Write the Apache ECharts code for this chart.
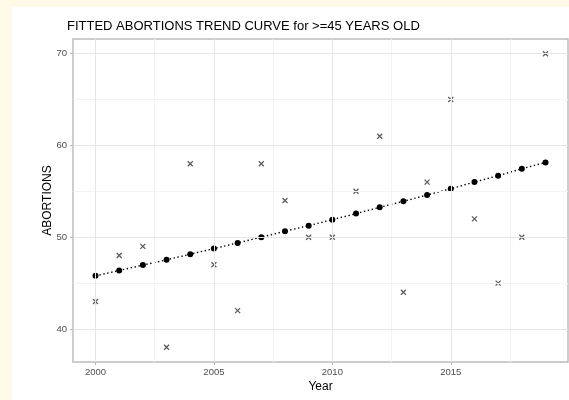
<!DOCTYPE html>
<html>
<head>
<meta charset="utf-8">
<script src="https://cdn.jsdelivr.net/npm/echarts@6/dist/echarts.min.js"></script>
<style>
  html, body { margin: 0; padding: 0; background: #fffae8; }
  #wrap { position: relative; width: 569px; height: 400px; overflow: hidden; }
  #panel { position: absolute; left: 12px; top: 7px; width: 557px; height: 393px; background: #ffffff; }
  #chart { position: absolute; left: 0; top: 0; width: 569px; height: 400px; }
</style>
</head>
<body>
<div id="wrap">
  <div id="panel"></div>
  <div id="chart"></div>
</div>
<script>
// Yearly counts of abortions among women aged 45 and over, with the fitted trend
const years = [2000, 2001, 2002, 2003, 2004, 2005, 2006, 2007, 2008, 2009,
               2010, 2011, 2012, 2013, 2014, 2015, 2016, 2017, 2018, 2019];
const observed = [43, 48, 49, 38, 58, 47, 42, 58, 54, 50,
                  50, 55, 61, 44, 56, 65, 52, 45, 50, 70];
const fitted = [45.79, 46.37, 46.96, 47.53, 48.15, 48.76, 49.38, 50.00, 50.65, 51.26,
                51.91, 52.57, 53.26, 53.91, 54.60, 55.28, 56.01, 56.70, 57.46, 58.15];

// Axis breaks
const xTicks = [2000, 2005, 2010, 2015];
const xMinor = [2002.5, 2007.5, 2012.5, 2017.5];
const yTicks = [40, 50, 60, 70];
const yMinor = [45, 55, 65];

const pairs = (xs, ys) => xs.map((x, i) => [x, ys[i]]);

const chart = echarts.init(document.getElementById('chart'), null, { renderer: 'canvas' });

const fontFamily = 'Liberation Sans, Arial, sans-serif';
const tickLabel = { color: '#4d4d4d', fontSize: 9.5, fontFamily: fontFamily };
const nameStyle = { color: '#000000', fontSize: 12, fontFamily: fontFamily };

const gridLines = (axisKey, values, color, width) => values.map(v => ({
  [axisKey]: v,
  lineStyle: { color: color, width: width, type: 'solid' }
}));

chart.setOption({
  backgroundColor: 'transparent',
  animation: false,
  title: {
    text: 'FITTED ABORTIONS TREND CURVE for >=45 YEARS OLD',
    left: 67,
    top: 20,
    padding: 0,
    textStyle: { color: '#000000', fontSize: 13, fontWeight: 'normal', fontFamily: fontFamily }
  },
  grid: {
    left: 73, right: 1, top: 39, bottom: 38,
    show: true,
    backgroundColor: '#ffffff',
    borderColor: '#bdbdbd',
    borderWidth: 1.5
  },
  xAxis: {
    type: 'value',
    min: 1999.05,
    max: 2019.95,
    name: 'Year',
    nameLocation: 'middle',
    nameGap: 19,
    nameMoveOverlap: false,
    nameTextStyle: nameStyle,
    axisLine: { show: false },
    axisTick: { show: true, customValues: xTicks, length: 3, lineStyle: { color: '#b3b3b3', width: 1 } },
    axisLabel: Object.assign({ customValues: xTicks, margin: 5, formatter: v => String(v) }, tickLabel),
    splitLine: { show: false }
  },
  yAxis: {
    type: 'value',
    min: 36.4,
    max: 71.6,
    name: 'ABORTIONS',
    nameLocation: 'middle',
    nameGap: 19,
    nameMoveOverlap: false,
    nameTextStyle: nameStyle,
    axisLine: { show: false },
    axisTick: { show: true, customValues: yTicks, length: 3, lineStyle: { color: '#b3b3b3', width: 1 } },
    axisLabel: Object.assign({ customValues: yTicks, margin: 6, formatter: v => String(v) }, tickLabel),
    splitLine: { show: false }
  },
  series: [
    {
      name: 'grid',
      type: 'scatter',
      data: [],
      silent: true,
      z: 1,
      markLine: {
        silent: true,
        symbol: ['none', 'none'],
        label: { show: false },
        animation: false,
        data: [].concat(
          gridLines('xAxis', xMinor, '#f3f3f3', 1),
          gridLines('yAxis', yMinor, '#f3f3f3', 1),
          gridLines('xAxis', xTicks, '#e6e6e6', 1),
          gridLines('yAxis', yTicks, '#e6e6e6', 1)
        )
      }
    },
    {
      name: 'Fitted',
      type: 'line',
      data: pairs(years, fitted),
      z: 3,
      symbol: 'circle',
      symbolSize: 6,
      itemStyle: { color: '#000000' },
      lineStyle: { color: '#000000', width: 1.4, type: [1.4, 2.6] }
    },
    {
      name: 'Observed',
      type: 'scatter',
      data: pairs(years, observed),
      z: 4,
      symbol: 'path://M0,0L10,10M0,10L10,0',
      symbolSize: 5,
      itemStyle: { color: 'none', borderColor: '#333333', borderWidth: 1.3 }
    }
  ]
});
</script>
</body>
</html>
